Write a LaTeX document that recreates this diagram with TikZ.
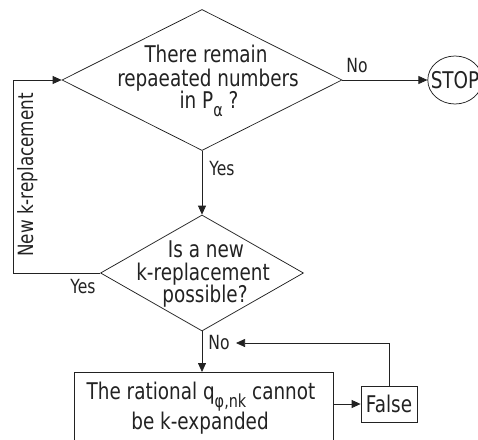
\documentclass[tikz,border=0pt]{standalone}
\usepackage{fontspec}
\setmainfont{DejaVu Sans}[FakeStretch=0.8]
\usetikzlibrary{arrows.meta,shapes.geometric}
\definecolor{ink}{HTML}{222222}
\newcommand\mainfnt{\fontsize{23}{25}\selectfont}
\newcommand\lblfnt{\fontsize{19.5}{21}\selectfont}
\newcommand\newfnt{\fontsize{21}{23}\selectfont}
\newcommand\mysub[1]{\raisebox{-8pt}{\fontsize{18}{18}\selectfont #1}}
\begin{document}
\begin{tikzpicture}[x=1pt,y=-1pt,line width=0.75pt,
  every node/.style={text=ink},
  dia/.style={diamond,draw=ink,inner sep=0pt},
  boxn/.style={rectangle,draw=ink,inner sep=0pt},
  txt/.style={font=\mainfnt,inner sep=0pt,anchor=base},
  lbl/.style={font=\lblfnt,inner sep=0pt,anchor=base},
  conn/.style={draw=ink,-{Triangle[length=9pt,width=8pt]}}]
\useasboundingbox (0,0) rectangle (478,439);
\clip (0,0) rectangle (478,439);
% shapes
\node[dia,minimum width=280,minimum height=141] (d1) at (202,80) {};
\node[dia,minimum width=203,minimum height=116] (d2) at (202,273) {};
\node[boxn,minimum width=259,minimum height=90,anchor=north] (bx) at (203.5,372) {};
\node[boxn,font=\mainfnt,minimum width=56,minimum height=36] (fl) at (389,404) {False};
\node[ellipse,draw=ink,inner ysep=0pt,inner xsep=-5pt,minimum height=48,font=\mainfnt] (st) at (455,80) {STOP};
% texts
\node[txt] (t1a) at (206,62) {There remain};
\node[txt] (t1b) at (208,86) {repaeated numbers};
\node[txt] (t1c) at (209,108) {in P\mysub{α} ?};
\node[txt] (t2a) at (206,257) {Is a new};
\node[txt] (t2b) at (203,280) {k-replacement};
\node[txt] (t2c) at (205,302) {possible?};
\node[txt] (b1) at (201,399) {The rational q\mysub{φ,nk} cannot};
\node[txt] (b2) at (200,429.5) {be k-expanded};
% labels
\node[lbl] (lno1) at (357,72) {No};
\node[lbl] (lyes1) at (222,175) {Yes};
\node[lbl] (lyes2) at (83,293) {Yes};
\node[lbl] (lno2) at (219,349) {No};
\node[lbl,font=\newfnt,rotate=90] (lnew) at (33,175) {New k-replacement};
% connectors
\coordinate (lp) at (13,273);
\coordinate (fb) at (236,343);
\draw[conn] (d1.east) -- (st.west);
\draw[conn] (d1.south) -- (d2.north);
\draw[conn] (d2.west) -- (lp) |- (d1.west);
\draw[conn] (d2.south) -- (d2.south |- bx.north);
\draw[conn] (bx.east |- fl.west) -- (fl.west);
\draw[conn] (fl.north) |- (fb);
\end{tikzpicture}
\end{document}
